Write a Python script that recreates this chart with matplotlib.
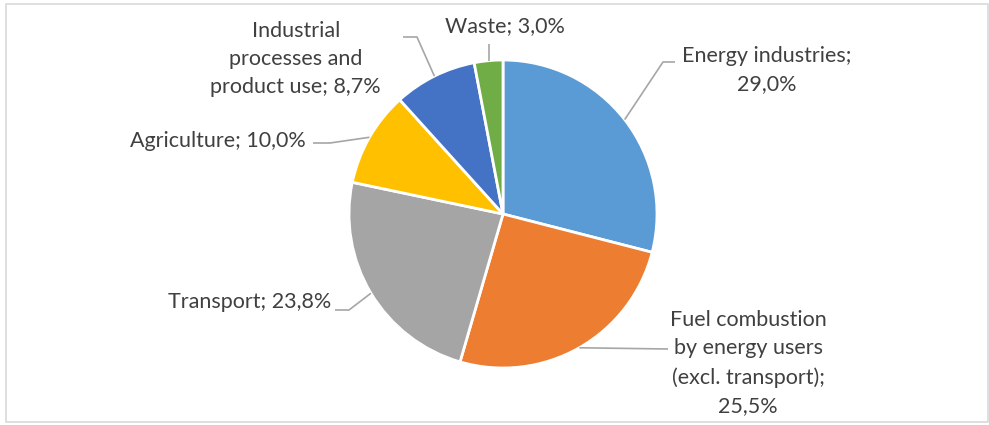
import matplotlib
matplotlib.use("Agg")
import matplotlib.pyplot as plt
import numpy as np
from matplotlib.patches import Rectangle

categories = ["Energy industries", "Fuel combustion\nby energy users\n(excl. transport)",
              "Transport", "Agriculture", "Industrial\nprocesses and\nproduct use", "Waste"]
values = [29.0, 25.5, 23.8, 10.0, 8.7, 3.0]
colors = ["#5B9BD5", "#ED7D31", "#A5A5A5", "#FFC000", "#4472C4", "#70AD47"]
label_texts = ["Energy industries;\n29,0%", "Fuel combustion\nby energy users\n(excl. transport);\n25,5%",
               "Transport; 23,8%", "Agriculture; 10,0%", "Industrial\nprocesses and\nproduct use; 8,7%",
               "Waste; 3,0%"]

W, H = 989, 425
fig = plt.figure(figsize=(W / 100, H / 100), dpi=100)
ax = fig.add_axes([0, 0, 1, 1])

def py(y):
    return H - y

cx, cy, R = 503, 214, 154
wedges, _ = ax.pie(values, colors=colors, startangle=90, counterclock=False,
                   center=(cx, py(cy)), radius=R, frame=True,
                   wedgeprops=dict(edgecolor="white", linewidth=2))
ax.set_xlim(0, W)
ax.set_ylim(0, H)
ax.set_aspect("equal")
ax.axis("off")

# label layout: (text x, text y, ha, elbow point, horizontal end)
layout = [
    (767, 70, "center", (663, 62), (675, 62)),
    (748, 363, "center", None, (668, 349)),
    (331, 302, "right", (349, 310), (335, 310)),
    (306, 141, "right", (330, 143), (313, 143)),
    (381, 59, "right", (417, 37), (403, 37)),
    (505, 26, "center", None, (489, 44)),
]

textcolor = "#404040"
linecolor = "#A6A6A6"
font = "Lato"
for w, txt, (tx, ty, ha, elbow, hend) in zip(wedges, label_texts, layout):
    ang = np.deg2rad((w.theta1 + w.theta2) / 2)
    ex = cx + R * np.cos(ang)
    ey = py(cy) + R * np.sin(ang)
    pts = [(ex, ey)]
    if elbow is not None:
        pts.append((elbow[0], py(elbow[1])))
    if hend is not None:
        if elbow is None and abs(hend[0] - ex) < 3:
            pts.append((ex, py(hend[1])))
        else:
            pts.append((hend[0], py(hend[1])))
    xs, ys = zip(*pts)
    ax.plot(xs, ys, color=linecolor, lw=1.2, solid_capstyle="butt")
    ax.text(tx, py(ty), txt, ha=ha, va="center", multialignment="center",
            fontsize=15.5, color=textcolor, family=font, linespacing=1.52)

fig.patches.append(Rectangle((6 / W, (H - 422) / H), (W - 6 - 1) / W, (422 - 4) / H,
                             transform=fig.transFigure, fill=False,
                             edgecolor="#D9D9D9", linewidth=1.2))

fig.savefig("out.png", dpi=100)
